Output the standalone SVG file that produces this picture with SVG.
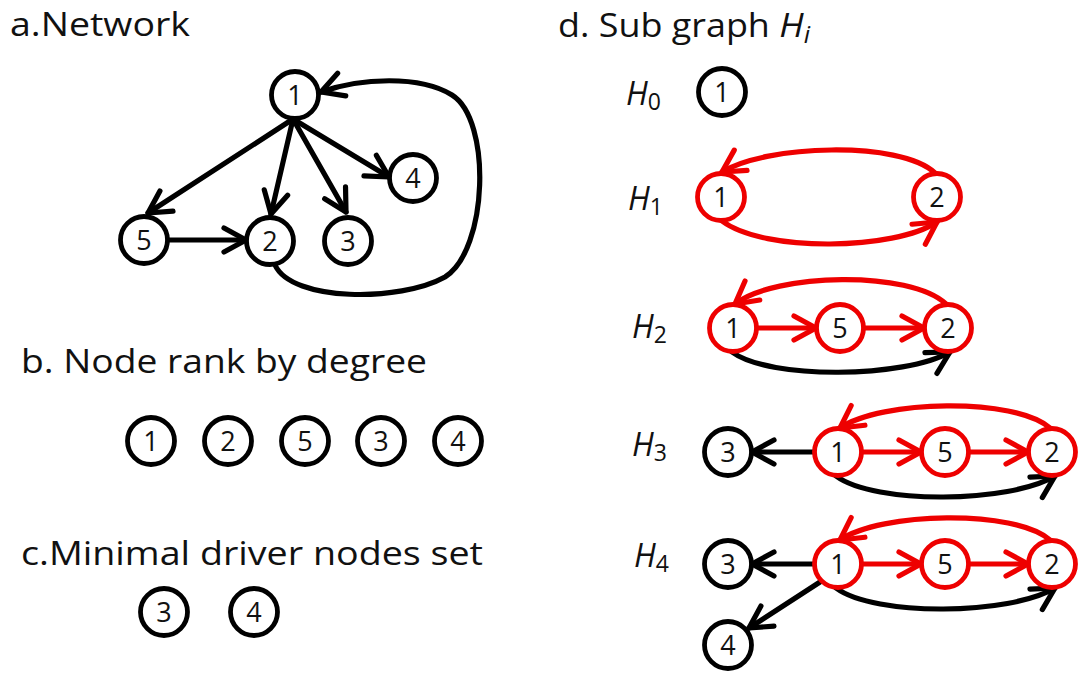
<svg xmlns="http://www.w3.org/2000/svg" width="1080" height="675" viewBox="0 0 1080 675">
<defs>
<style>
.title{font-family:"Open Sans","Liberation Sans",sans-serif;font-size:33px;fill:#111}
.hl{font-family:"Open Sans","Liberation Sans",sans-serif;font-size:32px;fill:#111;font-style:italic}
.sub{font-family:"Open Sans","Liberation Sans",sans-serif;font-size:23px}
.nb circle{fill:#fff;stroke:#000;stroke-width:4.8}
.nr circle{fill:#fff;stroke:#e00;stroke-width:4.8}
.nb text,.nr text{font-family:"Open Sans","Liberation Sans",sans-serif;font-size:27px;fill:#111;text-anchor:middle}
.eb{fill:none;stroke:#000;stroke-width:5.2;stroke-linecap:round;marker-end:url(#ab)}
.er{fill:none;stroke:#e00;stroke-width:5.2;stroke-linecap:round;marker-end:url(#ar)}
</style>
<marker id="ab" viewBox="0 0 32 32" markerWidth="32" markerHeight="32" refX="28" refY="16" markerUnits="userSpaceOnUse" orient="auto">
<path d="M6,4 L28,16 L6,28" fill="none" stroke="#000" stroke-width="5.2" stroke-linecap="round" stroke-linejoin="round"/>
</marker>
<marker id="ar" viewBox="0 0 32 32" markerWidth="32" markerHeight="32" refX="28" refY="16" markerUnits="userSpaceOnUse" orient="auto">
<path d="M6,4 L28,16 L6,28" fill="none" stroke="#e00" stroke-width="5.2" stroke-linecap="round" stroke-linejoin="round"/>
</marker>
</defs>
<rect width="1080" height="675" fill="#fff"/>

<g id="titles">
<text class="title" x="10" y="36" textLength="180" lengthAdjust="spacingAndGlyphs">a.Network</text>
<text class="title" x="21" y="373" textLength="406" lengthAdjust="spacingAndGlyphs">b. Node rank by degree</text>
<text class="title" x="21" y="565" textLength="462" lengthAdjust="spacingAndGlyphs">c.Minimal driver nodes set</text>
<text class="title" x="558" y="37" textLength="252" lengthAdjust="spacingAndGlyphs">d. Sub graph <tspan font-style="italic">H</tspan><tspan class="sub" font-style="italic" dy="6">i</tspan></text>
<text class="hl" x="626" y="105">H<tspan class="sub" font-style="normal" dy="5">0</tspan></text>
<text class="hl" x="628" y="210">H<tspan class="sub" font-style="normal" dy="5">1</tspan></text>
<text class="hl" x="632" y="338">H<tspan class="sub" font-style="normal" dy="5">2</tspan></text>
<text class="hl" x="632" y="456">H<tspan class="sub" font-style="normal" dy="5">3</tspan></text>
<text class="hl" x="634" y="567">H<tspan class="sub" font-style="normal" dy="5">4</tspan></text>
</g>

<g id="connectors">
<!-- panel a -->
<path class="eb" d="M293,119 L148,213"/>
<path class="eb" d="M293,119 L271,214"/>
<path class="eb" d="M293,119 L346,212"/>
<path class="eb" d="M293,119 L389,177"/>
<path class="eb" d="M168,240 L246,240"/>
<path class="eb" d="M275,265 C292,302 400,302 445,277 C488,250 492,120 452,95 C420,75 360,78 321,92"/>
<!-- H1 -->
<path class="er" d="M935,173 C900,140 765,145 722,172"/>
<path class="er" d="M722,221 C765,253 895,250 937,222"/>
<!-- H2 -->
<path class="er" d="M757,328 L816,328"/>
<path class="er" d="M864,328 L924,328"/>
<path class="er" d="M946,304 C910,270 775,273 735,304"/>
<path class="eb" d="M732,352 C770,380 905,378 950,352"/>
<!-- H3 -->
<path class="eb" d="M814,452 L752,452"/>
<path class="er" d="M862,452 L921,452"/>
<path class="er" d="M969,452 L1028,452"/>
<path class="er" d="M1050,428 C1015,397 880,400 840,428"/>
<path class="eb" d="M836,476 C875,505 1010,503 1055,476"/>
<!-- H4 -->
<path class="eb" d="M814,564 L752,564"/>
<path class="eb" d="M820,582 L749,628"/>
<path class="er" d="M862,564 L921,564"/>
<path class="er" d="M969,564 L1028,564"/>
<path class="er" d="M1050,540 C1015,509 880,512 840,540"/>
<path class="eb" d="M836,588 C875,617 1010,615 1055,588"/>
</g>

<g id="a1" class="nb"><circle cx="295" cy="95" r="23.5"/><text x="295" y="105">1</text></g>
<g id="a4" class="nb"><circle cx="413" cy="178" r="23.5"/><text x="413" y="188">4</text></g>
<g id="a5" class="nb"><circle cx="144" cy="240" r="23.5"/><text x="144" y="250">5</text></g>
<g id="a2" class="nb"><circle cx="270" cy="241" r="23.5"/><text x="270" y="251">2</text></g>
<g id="a3" class="nb"><circle cx="348" cy="241" r="23.5"/><text x="348" y="251">3</text></g>

<g id="b1" class="nb"><circle cx="151" cy="441" r="23.5"/><text x="151" y="451">1</text></g>
<g id="b2" class="nb"><circle cx="228" cy="441" r="23.5"/><text x="228" y="451">2</text></g>
<g id="b5" class="nb"><circle cx="305" cy="441" r="23.5"/><text x="305" y="451">5</text></g>
<g id="b3" class="nb"><circle cx="381" cy="441" r="23.5"/><text x="381" y="451">3</text></g>
<g id="b4" class="nb"><circle cx="458" cy="441" r="23.5"/><text x="458" y="451">4</text></g>

<g id="c3" class="nb"><circle cx="164" cy="612" r="23.5"/><text x="164" y="622">3</text></g>
<g id="c4" class="nb"><circle cx="254" cy="612" r="23.5"/><text x="254" y="622">4</text></g>

<g id="h0n1" class="nb"><circle cx="722" cy="92" r="23.5"/><text x="722" y="102">1</text></g>

<g id="h1n1" class="nr"><circle cx="721" cy="197" r="23.5"/><text x="721" y="207">1</text></g>
<g id="h1n2" class="nr"><circle cx="937" cy="197" r="23.5"/><text x="937" y="207">2</text></g>

<g id="h2n1" class="nr"><circle cx="733" cy="328" r="23.5"/><text x="733" y="338">1</text></g>
<g id="h2n5" class="nr"><circle cx="840" cy="328" r="23.5"/><text x="840" y="338">5</text></g>
<g id="h2n2" class="nr"><circle cx="948" cy="328" r="23.5"/><text x="948" y="338">2</text></g>

<g id="h3n3" class="nb"><circle cx="728" cy="452" r="23.5"/><text x="728" y="462">3</text></g>
<g id="h3n1" class="nr"><circle cx="838" cy="452" r="23.5"/><text x="838" y="462">1</text></g>
<g id="h3n5" class="nr"><circle cx="945" cy="452" r="23.5"/><text x="945" y="462">5</text></g>
<g id="h3n2" class="nr"><circle cx="1052" cy="452" r="23.5"/><text x="1052" y="462">2</text></g>

<g id="h4n3" class="nb"><circle cx="728" cy="564" r="23.5"/><text x="728" y="574">3</text></g>
<g id="h4n1" class="nr"><circle cx="838" cy="564" r="23.5"/><text x="838" y="574">1</text></g>
<g id="h4n5" class="nr"><circle cx="945" cy="564" r="23.5"/><text x="945" y="574">5</text></g>
<g id="h4n2" class="nr"><circle cx="1052" cy="564" r="23.5"/><text x="1052" y="574">2</text></g>
<g id="h4n4" class="nb"><circle cx="728" cy="645" r="23.5"/><text x="728" y="655">4</text></g>
</svg>
